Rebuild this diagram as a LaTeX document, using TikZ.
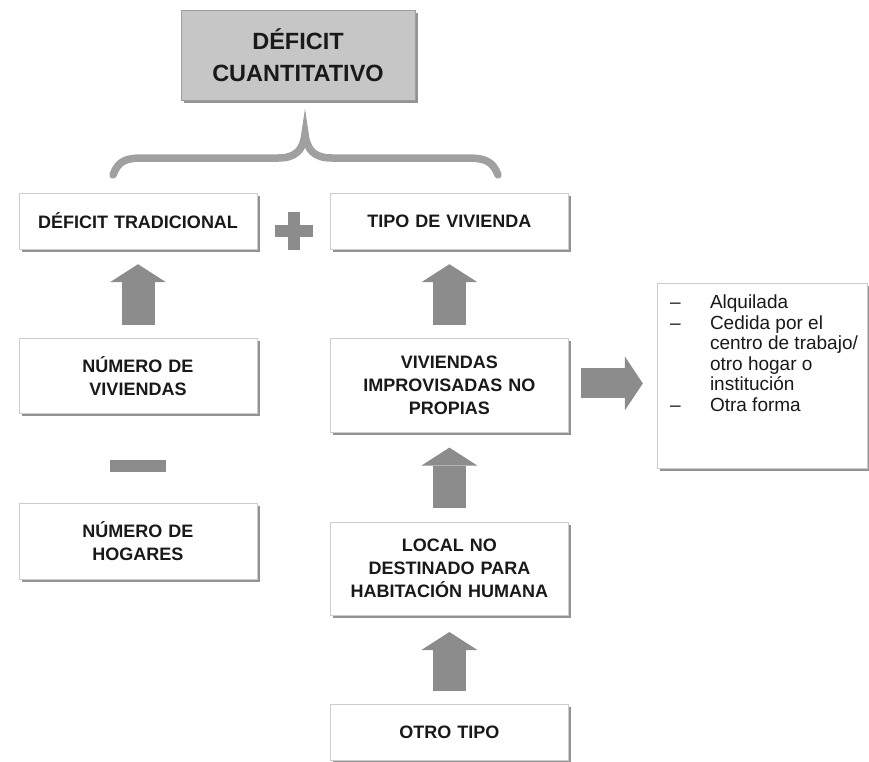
\documentclass[tikz,border=0pt]{standalone}
\usepackage{fontspec}
\setmainfont{Liberation Sans}
\usetikzlibrary{positioning,arrows.meta,shadows,calc}

\definecolor{arrgray}{RGB}{140,140,140}
\definecolor{bracegray}{RGB}{160,160,160}
\definecolor{boxline}{RGB}{205,205,205}
\definecolor{topfill}{RGB}{198,198,198}
\definecolor{txtdark}{RGB}{25,25,25}

\begin{document}
\begin{tikzpicture}[x=1pt, y=-1pt, node distance=89pt,
    pbox/.style={rectangle, draw=boxline, fill=white, text=txtdark, text width=230pt, align=center,
        minimum width=238pt, minimum height=56pt, inner sep=2pt,
        font=\bfseries\fontsize{18}{23}\selectfont,
        drop shadow={shadow xshift=2.5pt, shadow yshift=-3pt, fill=gray!85, opacity=1}},
    uparr/.style={line width=33pt, arrgray, -{Triangle[width=56pt, length=18pt, line width=0pt]}}]

    \useasboundingbox (0,0) rectangle (869,761);

    % top box
    \node[pbox, fill=topfill, draw=gray!75, minimum width=230pt, minimum height=90pt,
        font=\bfseries\fontsize{23.5}{32}\selectfont] (cuanti) at (298,55) {DÉFICIT\\CUANTITATIVO};

    % brace
    \draw[bracegray, line width=7.5pt, line cap=round]
        (113,175) .. controls (118,161) and (126,158) .. (142,158) -- (278,158)
        .. controls (296,158) and (303,150) .. (305,134)
        .. controls (307,150) and (314,158) .. (332,158) -- (468,158)
        .. controls (484,158) and (493,161) .. (498,175);

    \node[pbox] (trad) at (138,221) {DÉFICIT TRADICIONAL};
    \node[pbox, right=73pt of trad] (tipo) {TIPO DE VIVIENDA};

    \node[pbox, minimum height=75pt, below=of trad] (numviv) {NÚMERO DE\\VIVIENDAS};
    \node[pbox, minimum height=76pt, below=of numviv] (numhog) {NÚMERO DE\\HOGARES};

    \node[pbox, minimum height=94pt, below=of tipo] (improv) {VIVIENDAS\\IMPROVISADAS NO\\PROPIAS};
    \node[pbox, minimum height=93pt, below=of improv] (local) {LOCAL NO\\DESTINADO PARA\\HABITACIÓN HUMANA};
    \node[pbox, below=of local] (otro) {OTRO TIPO};

    \node[pbox, minimum width=210pt, minimum height=185pt, text width=190pt] (lista) at (762,375.5) {};
    \node[anchor=north west, align=left, inner sep=0pt, text=txtdark,
        font=\fontsize{19}{20.5}\selectfont] (listtxt) at ($(lista.north west)+(13,12)$)
        {\makebox[40pt][l]{–}Alquilada\\
         \makebox[40pt][l]{–}Cedida por el\\
         \hspace*{40pt}centro de trabajo/\\
         \hspace*{40pt}otro hogar o\\
         \hspace*{40pt}institución\\
         \makebox[40pt][l]{–}Otra forma};

    % plus and minus
    \coordinate (plus) at ($(trad.east)!0.5!(tipo.west)+(0,10)$);
    \fill[arrgray] ($(plus)+(-19,-6)$) rectangle ($(plus)+(19,6)$);
    \fill[arrgray] ($(plus)+(-6,-19)$) rectangle ($(plus)+(6,19)$);
    \coordinate (minus) at ($(numviv.south)!0.5!(numhog.north)+(0,8)$);
    \fill[arrgray] ($(minus)+(-28,-6)$) rectangle ($(minus)+(28,6)$);

    % arrows
    \draw[uparr, shorten <=13pt, shorten >=15pt] (numviv) -- (trad);
    \draw[uparr, shorten <=13pt, shorten >=15pt] (improv) -- (tipo);
    \draw[uparr, shorten <=14pt, shorten >=15pt] (local) -- (improv);
    \draw[uparr, shorten <=13pt, shorten >=17pt] (otro) -- (local);
    \draw[uparr, line width=30pt, -{Triangle[width=54pt, length=18pt, line width=0pt]},
        shorten <=12pt, shorten >=14pt] ([yshift=2pt]improv.east) -- ([yshift=2pt]improv.east -| lista.west);

\end{tikzpicture}
\end{document}
